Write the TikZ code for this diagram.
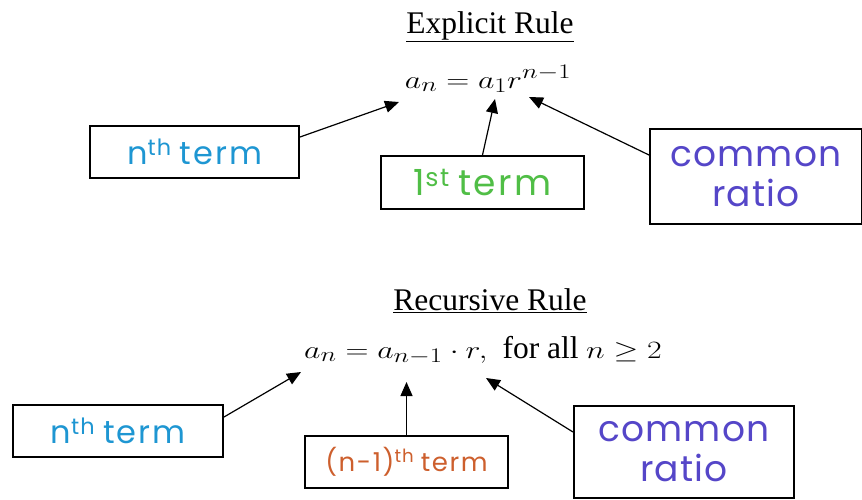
\documentclass[tikz,border=0pt]{standalone}
\usepackage{fontspec}
\setmainfont{Liberation Serif}
\newfontfamily\hand[LetterSpace=6]{Poppins}
\newfontfamily\handr[LetterSpace=3]{Poppins}
\usetikzlibrary{arrows.meta}
\definecolor{cyanT}{RGB}{30,150,210}
\definecolor{greenT}{RGB}{80,190,70}
\definecolor{violetT}{RGB}{85,70,200}
\definecolor{orangeT}{RGB}{205,95,45}
\newcommand{\wide}[1]{\scalebox{1.28}[1]{#1}}
\tikzset{
  lbox/.style={draw=black,line width=2pt,inner sep=0pt,align=center},
  arr/.style={line width=1.2pt,-{Triangle[length=14pt,width=12pt]}},
  title/.style={anchor=base,font=\fontsize{31.5}{34}\selectfont},
  formula/.style={anchor=base,font=\fontsize{30}{32}\selectfont},
  htext/.style={font=\hand\fontsize{32}{36}\selectfont},
  hratio/.style={font=\handr\fontsize{36}{40}\selectfont,text=violetT},
}
\begin{document}
\begin{tikzpicture}[x=1pt,y=-1pt]
\useasboundingbox (0,0) rectangle (862,499);
% ---- Explicit rule ----
\node[title] (t1) at (490,33) {\underline{Explicit Rule}};
\node[formula] (f1) at (488,88) {\wide{$a_n = a_1 r^{n-1}$}};
\node[lbox,minimum width=209pt,minimum height=52pt,htext,text=cyanT] (e1) at (194.5,152) {n\textsuperscript{th}\hspace{0.25em}term};
\node[lbox,minimum width=203pt,minimum height=53pt,htext,text=greenT,font=\hand\fontsize{36}{40}\selectfont] (e2) at (482.5,182.5) {1\textsuperscript{st}\hspace{0.25em}term};
\node[lbox,minimum width=212pt,minimum height=95pt,hratio] (e3) at (756,176.5) {common\\ratio};
\coordinate (p1) at (399,102);
\coordinate (p2) at (495,99);
\coordinate (p3) at (529,97);
\draw[arr] ([yshift=15pt]e1.east) -- (p1);
\draw[arr] (e2.north) -- (p2);
\draw[arr] ([yshift=21.5pt]e3.west) -- (p3);
% ---- Recursive rule ----
\node[title] (t2) at (490,310) {\underline{Recursive Rule}};
\node[formula] (f2) at (483,358) {\wide{$a_n = a_{n-1}\cdot r,$}\ \ {\fontsize{31.5}{34}\selectfont for all} \wide{$n \geq 2$}};
\node[lbox,minimum width=210pt,minimum height=52pt,htext,text=cyanT] (r1) at (118,431) {n\textsuperscript{th}\hspace{0.25em}term};
\node[lbox,minimum width=203pt,minimum height=52pt,text=orangeT,font=\hand\fontsize{26}{30}\selectfont] (r2) at (406.5,461.5) {(n-1)\textsuperscript{th}\hspace{0.25em}term};
\node[lbox,minimum width=220pt,minimum height=92pt,hratio] (r3) at (684,452) {common\\ratio};
\coordinate (q1) at (301,372);
\coordinate (q2) at (406.5,382);
\coordinate (q3) at (486,378);
\draw[arr] ([yshift=14pt]r1.east) -- (q1);
\draw[arr] (r2.north) -- (q2);
\draw[arr] ([yshift=20pt]r3.west) -- (q3);
\end{tikzpicture}
\end{document}
